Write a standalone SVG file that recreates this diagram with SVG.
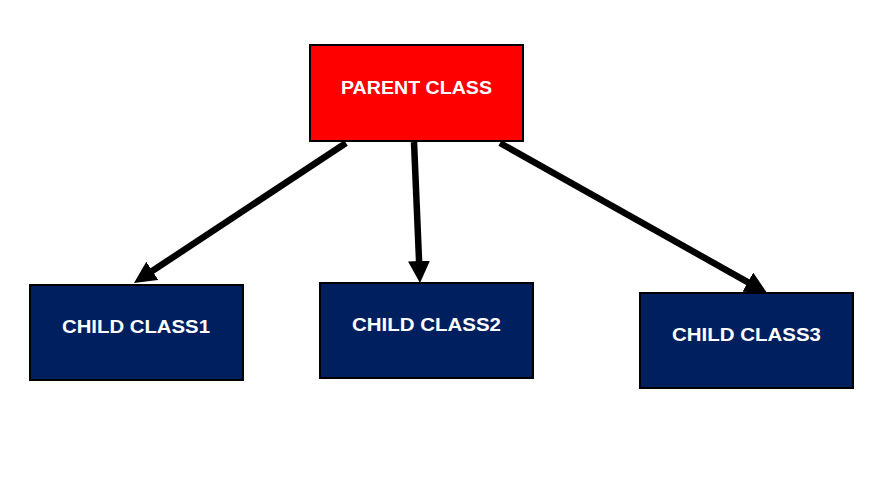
<svg xmlns="http://www.w3.org/2000/svg" width="888" height="502" viewBox="0 0 888 502">
  <style>
    .box { stroke: #000; stroke-width: 2; }
    .parent { fill: #ff0000; }
    .child { fill: #001f5f; }
    .lbl { fill: #fff; font-family: "Liberation Sans", Arial, sans-serif; font-weight: bold; font-size: 19px; text-anchor: middle; }
    .edge { stroke: #000; stroke-width: 6.5; fill: none; marker-end: url(#arrow); }
  </style>
  <defs>
    <marker id="arrow" markerUnits="userSpaceOnUse" markerWidth="22" markerHeight="22" refX="8" refY="11" orient="auto">
      <path d="M0,0 L22,11 L0,22 z" fill="#000"/>
    </marker>
  </defs>
  <rect width="888" height="502" fill="#fff"/>
  <g id="connectors">
    <line class="edge" x1="346" y1="143" x2="145.7" y2="275.3"/>
    <line class="edge" x1="414" y1="142" x2="419.4" y2="269"/>
    <line class="edge" x1="500" y1="143" x2="754.8" y2="286.1"/>
  </g>
  <g id="parent">
    <rect class="box parent" x="310" y="45" width="213" height="96"/>
    <text class="lbl" x="416.5" y="94" textLength="151" lengthAdjust="spacingAndGlyphs">PARENT CLASS</text>
  </g>
  <g id="child1">
    <rect class="box child" x="30" y="285" width="213" height="95"/>
    <text class="lbl" x="136" y="333" textLength="148" lengthAdjust="spacingAndGlyphs">CHILD CLASS1</text>
  </g>
  <g id="child2">
    <rect class="box child" x="320" y="283" width="213" height="95"/>
    <text class="lbl" x="426.5" y="331" textLength="149" lengthAdjust="spacingAndGlyphs">CHILD CLASS2</text>
  </g>
  <g id="child3">
    <rect class="box child" x="640" y="293" width="213" height="95"/>
    <text class="lbl" x="746.5" y="341" textLength="149" lengthAdjust="spacingAndGlyphs">CHILD CLASS3</text>
  </g>
</svg>
